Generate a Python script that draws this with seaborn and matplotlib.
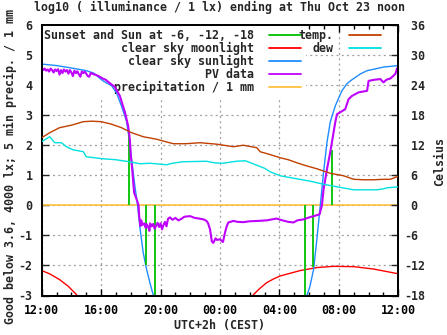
import matplotlib
matplotlib.use("Agg")
import matplotlib.pyplot as plt
import seaborn as sns
from matplotlib.lines import Line2D
from matplotlib.ticker import MultipleLocator, FuncFormatter

# ---------------- data (hours after Wed 12:00 CEST) ----------------
sun_ev_t = [0, 1, 2, 3, 3.5, 4.13, 4.7, 5.03, 5.37, 5.71, 5.89, 6.05, 6.27, 6.43, 6.6, 6.83, 7.06, 7.28, 7.46, 7.6]
sun_ev_v = [4.7, 4.65, 4.57, 4.48, 4.4, 4.14, 3.98, 3.75, 3.3, 2.8, 2.2, 1.53, 0.64, 0.09, -0.69, -1.57, -2.13, -2.57, -2.9, -3.1]
sun_mo_t = [17.7, 17.85, 18.05, 18.3, 18.52, 18.75, 18.97, 19.2, 19.42, 19.76, 20.2, 20.55, 20.77, 21.44, 21.9, 23.0, 24.0]
sun_mo_v = [-3.2, -3.0, -2.7, -2.13, -1.13, 0.0, 1.1, 2.1, 2.77, 3.31, 3.81, 4.05, 4.14, 4.37, 4.48, 4.6, 4.65]

moon_ev_t = [0, 0.54, 1.2, 1.78, 2.34, 2.45]
moon_ev_v = [-2.17, -2.28, -2.47, -2.69, -2.97, -3.05]
moon_mo_t = [14.1, 14.6, 15.15, 15.6, 16.05, 17.4, 18.52, 19.64, 21.0, 22.34, 23.92, 24.0]
moon_mo_v = [-3.05, -2.8, -2.57, -2.45, -2.35, -2.17, -2.07, -2.03, -2.04, -2.12, -2.27, -2.28]

pv_t = [0.0, 0.1, 0.2, 0.3, 0.4, 0.5, 0.6, 0.7, 0.8, 0.9, 1.0, 1.1, 1.2, 1.3, 1.4, 1.5, 1.6, 1.7,
        1.8, 1.9, 2.0, 2.1, 2.2, 2.3, 2.4, 2.5, 2.6, 2.7, 2.8, 2.9, 3.0, 3.1, 3.2, 3.3, 3.4, 3.5,
        3.7, 3.9, 4.1, 4.3, 4.5, 4.7, 4.9, 5.26, 5.6, 5.82, 5.93, 6.0, 6.09, 6.22, 6.43, 6.52,
        6.56, 6.65, 6.7, 6.8, 6.9, 7.0, 7.05, 7.15, 7.25, 7.3, 7.4, 7.5, 7.6, 7.7, 7.8, 7.9, 8.0,
        8.1, 8.2, 8.3, 8.4, 8.5, 8.63, 8.8, 9.0, 9.2, 9.4, 9.6, 9.76, 10.0, 10.3, 10.6, 10.9, 11.1,
        11.2, 11.33, 11.45, 11.55, 11.7, 11.8, 12.0, 12.2, 12.34, 12.45, 12.56, 12.9, 13.2, 13.57,
        14.0, 14.5, 15.15, 15.8, 16.2, 16.6, 16.95, 17.2, 17.6, 18.07, 18.3, 18.7, 18.86, 18.97,
        19.2, 19.42, 19.6, 19.76, 19.87, 20.1, 20.43, 20.65, 20.88, 21.33, 21.9, 22.0, 22.4, 22.8,
        23.0, 23.2, 23.47, 23.6, 23.8, 23.92, 24.0]
pv_v = [4.57, 4.5, 4.55, 4.48, 4.52, 4.45, 4.55, 4.5, 4.42, 4.52, 4.47, 4.53, 4.35, 4.5, 4.4, 4.52, 4.45, 4.5,
        4.38, 4.5, 4.42, 4.3, 4.48, 4.4, 4.46, 4.36, 4.28, 4.45, 4.4, 4.45, 4.38, 4.3, 4.28, 4.4, 4.38, 4.36,
        4.33, 4.28, 4.22, 4.18, 4.1, 4.02, 3.95, 3.64, 3.1, 2.64, 2.2, 1.64, 1.2, 0.42, 0.14, 0.0,
        -0.36, -0.69, -0.5, -0.65, -0.6, -0.75, -0.62, -0.7, -0.85, -0.6, -0.7, -0.62, -0.78, -0.68, -0.58, -0.72, -0.6,
        -0.8, -0.65, -0.55, -0.7, -0.45, -0.4, -0.48, -0.42, -0.5, -0.45, -0.38, -0.37, -0.36, -0.42, -0.44, -0.47, -0.52,
        -0.6, -0.8, -1.2, -1.25, -1.1, -1.15, -1.13, -1.22, -0.9, -0.7, -0.57, -0.52, -0.55, -0.56,
        -0.53, -0.52, -0.5, -0.44, -0.5, -0.55, -0.57, -0.5, -0.47, -0.39, -0.36, -0.3, 0.0, 0.53,
        1.2, 1.77, 2.3, 2.77, 3.03, 3.1, 3.2, 3.53, 3.64, 3.76, 3.81, 4.14, 4.18, 4.2,
        4.09, 4.18, 4.22, 4.28, 4.37, 4.56, 4.42]

precip_t = [0, 24]
precip_v = [0, 0]

sunev_t = [5.9, 7.03, 7.64, 17.69, 18.29, 19.51]
sunev_h = [2.45, -2.0, -3.2, -3.2, -2.05, 1.85]

temp_t = [0, 0.54, 1.2, 2.0, 2.8, 3.4, 4.0, 4.7, 5.37, 6.05, 6.83, 7.73, 8.85, 9.7, 10.65, 11.8, 12.9,
          13.57, 14.48, 14.7, 15.3, 16.05, 16.6, 17.17, 17.8, 18.52, 19.42, 20.32, 21.0, 21.7, 22.34,
          23.0, 23.47, 23.9, 24.0]
temp_c = [13.5, 14.5, 15.5, 16.0, 16.7, 16.8, 16.7, 16.2, 15.5, 14.5, 13.7, 13.2, 12.3, 12.3, 12.5, 12.2, 11.7,
          12.0, 11.5, 10.7, 10.2, 9.5, 9.1, 8.5, 7.9, 7.3, 6.4, 5.9, 5.2, 5.1, 5.1,
          5.2, 5.2, 5.7, 5.8]

dew_t = [0, 0.54, 0.88, 1.33, 1.66, 2.1, 2.8, 3.0, 4.1, 5.0, 5.9, 6.6, 7.3, 8.4, 8.8, 9.5, 11.1, 11.6,
         12.2, 13.1, 13.7, 14.48, 15.0, 15.37, 16.05, 17.17, 18.1, 18.97, 19.87, 21.0, 22.57, 23.0, 23.24, 24.0]
dew_c = [12.7, 13.7, 12.5, 12.5, 11.7, 11.1, 10.7, 9.7, 9.3, 9.1, 8.7, 8.3, 8.4, 8.1, 8.4, 8.7, 8.8, 8.5,
         8.4, 8.8, 8.9, 8.0, 7.4, 6.7, 5.9, 5.3, 4.8, 4.2, 3.7, 3.1, 3.1, 3.3, 3.5, 3.7]

start_hour = 12

labels = ["Sunset and Sun at -6, -12, -18", "clear sky moonlight", "clear sky sunlight",
          "PV data", "precipitation / 1 mm"]
labels2 = ["temp.", "dew"]

# ---------------- style ----------------
C_SUNEV = "#00c000"
C_MOON = "#ff0000"
C_SUN = "#1e8cff"
C_PV = "#c000ff"
C_PREC = "#ffc040"
C_TEMP = "#c04000"
C_DEW = "#00e0e0"

sns.set_style("ticks")
plt.rcParams["font.family"] = ["DejaVu Sans Mono"]
plt.rcParams["font.weight"] = "bold"
plt.rcParams["font.size"] = 8.4
FS = 8.4

fig = plt.figure(figsize=(4.47, 3.35), dpi=100)
ax = fig.add_axes([41.7 / 447, 1 - 295.5 / 335, (398.3 - 41.7) / 447, 270.5 / 335])
ax2 = ax.twinx()

def line(a, x, y, c, lw=1.0):
    sns.lineplot(x=x, y=y, ax=a, color=c, lw=lw, estimator=None, sort=False,
                 legend=False, zorder=3)

line(ax, precip_t, precip_v, C_PREC, 1.2)
line(ax, moon_ev_t, moon_ev_v, C_MOON)
line(ax, moon_mo_t, moon_mo_v, C_MOON)
line(ax, sun_ev_t, sun_ev_v, C_SUN)
line(ax, sun_mo_t, sun_mo_v, C_SUN)
ax.vlines(sunev_t, 0, sunev_h, colors=C_SUNEV, lw=1.3, zorder=3)
line(ax, pv_t, pv_v, C_PV, 1.5)
line(ax2, temp_t, temp_c, C_TEMP)
line(ax2, dew_t, dew_c, C_DEW)

ax.set_xlim(0, 24)
ax.set_ylim(-3, 6)
ax2.set_ylim(-18, 36)

ax.set_axisbelow(True)
ax.grid(True, which="major", color="#a0a0a0", linestyle=(0, (1.6, 2.6)), lw=0.9)
ax2.grid(False)

ax.xaxis.set_major_locator(MultipleLocator(4))
ax.xaxis.set_minor_locator(MultipleLocator(1))
ax.xaxis.set_major_formatter(FuncFormatter(lambda v, p: f"{int((start_hour + v) % 24):02d}:00"))
ax.yaxis.set_major_locator(MultipleLocator(1))
ax.yaxis.set_major_formatter(FuncFormatter(lambda v, p: f"{int(round(v))}"))
ax2.yaxis.set_major_locator(MultipleLocator(6))
ax2.yaxis.set_major_formatter(FuncFormatter(lambda v, p: f"{int(round(v)): d}"))

ax.tick_params(axis="x", which="both", direction="in", top=True, bottom=True, labelsize=FS, pad=6, colors="black")
ax.tick_params(axis="x", which="major", length=5, width=1)
ax.tick_params(axis="x", which="minor", length=3, width=1)
ax.tick_params(axis="y", which="major", direction="in", left=True, right=False, length=5, width=1, labelsize=FS, pad=6.5)
ax2.tick_params(axis="y", which="major", direction="in", right=True, length=5, width=1, labelsize=FS, pad=4.3)
ax.set_xlabel("")
ax.set_ylabel("")
ax2.set_ylabel("")

for a in (ax, ax2):
    for s in a.spines.values():
        s.set_linewidth(1.3)
        s.set_color("black")
        s.set_visible(True)

# legends (text first, sample after)
h1 = [Line2D([], [], color=c, lw=1.3) for c in (C_SUNEV, C_MOON, C_SUN, C_PV, C_PREC)]
leg1 = ax.legend(h1, labels, loc="upper right", bbox_to_anchor=((305 - 41.7) / 356.6, 1.0),
                 markerfirst=False, frameon=True, fancybox=False, framealpha=1.0,
                 edgecolor="white", facecolor="white", borderpad=0.35, borderaxespad=0.0,
                 handlelength=2.75, handletextpad=1.3, labelspacing=0.0,
                 prop={"family": "DejaVu Sans Mono", "weight": "bold", "size": FS})
leg1.set_zorder(1)

h2 = [Line2D([], [], color=c, lw=1.3) for c in (C_TEMP, C_DEW)]
leg2 = ax2.legend(h2, labels2, loc="upper right", bbox_to_anchor=((385 - 41.7) / 356.6, 1.0),
                  markerfirst=False, frameon=False, borderpad=0.35, borderaxespad=0.0,
                  handlelength=2.75, handletextpad=1.3, labelspacing=0.0,
                  prop={"family": "DejaVu Sans Mono", "weight": "bold", "size": FS})

fig.text(220 / 447, 1 - 7 / 335, "log10 ( illuminance / 1 lx) ending at Thu Oct 23 noon",
         ha="center", va="center", fontsize=FS, fontweight="bold")
fig.text(220 / 447, 1 - 326 / 335, "UTC+2h (CEST)", ha="center", va="center", fontsize=FS, fontweight="bold")
fig.text(10 / 447, 1 - 166 / 335, "Good below 3.6, 4000 lx; 5 min precip. / 1 mm",
         ha="center", va="center", rotation=90, fontsize=FS, fontweight="bold")
fig.text(440 / 447, 1 - 161 / 335, "Celsius", ha="center", va="center", rotation=90,
         fontsize=FS, fontweight="bold")

fig.savefig("out.png", dpi=100)
